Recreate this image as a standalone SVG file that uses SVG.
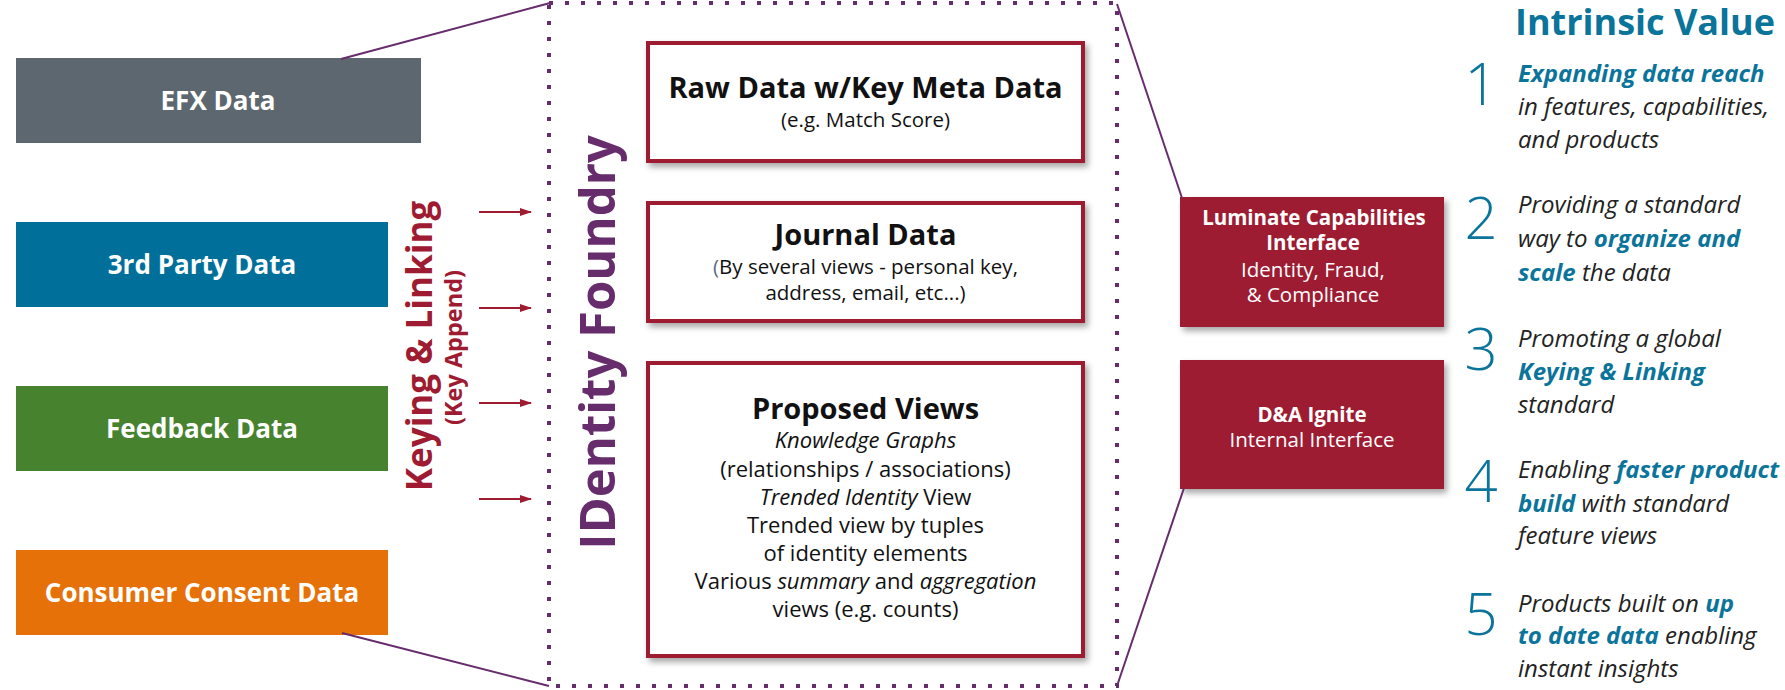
<svg xmlns="http://www.w3.org/2000/svg" width="1785" height="690" viewBox="0 0 1785 690">
<defs>
<style>
text{font-family:"Open Sans","Noto Sans","Liberation Sans",sans-serif;}
.src text{fill:#fff;font-weight:700;font-size:26px;text-anchor:middle;}
.cbox rect{fill:#fff;stroke:#9e1b32;stroke-width:4;}
.cbox text{fill:#111;text-anchor:middle;}
.ttl{font-weight:700;font-size:29px;}
.sub{font-size:20.5px;}
.pv{font-size:22px;}
.ifc rect{fill:#9e1b32;}
.ifc text{fill:#fff;text-anchor:middle;font-size:20.5px;}
.b{font-weight:700;}
.val text{font-size:24px;font-style:italic;fill:#222;}
.val text.num{font-size:58px;font-style:normal;font-weight:300;fill:#0b749a;text-anchor:middle;}
.val text.head{font-size:36px;font-weight:700;font-style:normal;fill:#0b749a;}
.val .hl{font-weight:700;fill:#0b749a;}
.conn line{stroke:#662c6c;stroke-width:2;}
.arr line{stroke:#9e1b32;stroke-width:2;}
</style>
<filter id="sh" x="-10%" y="-10%" width="125%" height="130%">
<feDropShadow dx="3" dy="4" stdDeviation="3" flood-color="#000" flood-opacity="0.35"/>
</filter>
<marker id="ah" markerWidth="12" markerHeight="10" refX="11" refY="4" orient="auto" markerUnits="userSpaceOnUse">
<path d="M0,0 L12,4 L0,8 z" fill="#9e1b32"/>
</marker>
</defs>
<rect width="1785" height="690" fill="#fff"/>

<g id="efx" class="src"><rect x="16" y="58" width="405" height="85" fill="#5d6770"/><text x="218" y="110">EFX Data</text></g>
<g id="third" class="src"><rect x="16" y="222" width="372" height="85" fill="#00709a"/><text x="202" y="274">3rd Party Data</text></g>
<g id="feedback" class="src"><rect x="16" y="386" width="372" height="85" fill="#47832e"/><text x="202" y="438">Feedback Data</text></g>
<g id="consumer" class="src"><rect x="16" y="550" width="372" height="85" fill="#e67108"/><text x="202" y="602">Consumer Consent Data</text></g>

<g id="keying">
<text transform="translate(432,346) rotate(-90)" text-anchor="middle" font-weight="700" font-size="35" fill="#9e1b32">Keying &amp; Linking</text>
<text transform="translate(462,347.5) rotate(-90)" text-anchor="middle" font-weight="700" font-size="23.5" fill="#9e1b32">(Key Append)</text>
</g>

<g id="foundry">
<rect x="549" y="3" width="568" height="683" fill="none" stroke="#662c6c" stroke-width="4" stroke-dasharray="4 12"/>
<text transform="translate(615,342.5) rotate(-90)" text-anchor="middle" font-weight="700" font-size="49" fill="#662c6c">IDentity Foundry</text>
</g>

<g id="raw" class="cbox"><rect x="648" y="43" width="435" height="118" filter="url(#sh)"/>
<text x="865.5" y="98" class="ttl">Raw Data w/Key Meta Data</text>
<text x="865.5" y="127" class="sub">(e.g. Match Score)</text></g>

<g id="journal" class="cbox"><rect x="648" y="203" width="435" height="118" filter="url(#sh)"/>
<text x="865.5" y="245" class="ttl">Journal Data</text>
<text x="865.5" y="274" class="sub"><tspan fill="#5b6b80">(</tspan>By several views - personal key,</text>
<text x="865.5" y="300" class="sub">address, email, etc...)</text></g>

<g id="proposed" class="cbox"><rect x="648" y="363" width="435" height="293" filter="url(#sh)"/>
<text x="865.5" y="419" class="ttl">Proposed Views</text>
<text x="865.5" y="448" class="pv" font-style="italic">Knowledge Graphs</text>
<text x="865.5" y="477" class="pv">(relationships / associations)</text>
<text x="865.5" y="505" class="pv"><tspan font-style="italic">Trended Identity</tspan> View</text>
<text x="865.5" y="533" class="pv">Trended view by tuples</text>
<text x="865.5" y="561" class="pv">of identity elements</text>
<text x="865.5" y="589" class="pv">Various <tspan font-style="italic">summary</tspan> and <tspan font-style="italic">aggregation</tspan></text>
<text x="865.5" y="617" class="pv">views (e.g. counts)</text></g>

<g id="luminate" class="ifc"><rect x="1180" y="197" width="264" height="130" filter="url(#sh)"/>
<text x="1314" y="225" class="b">Luminate Capabilities</text>
<text x="1313" y="250" class="b">Interface</text>
<text x="1313" y="277">Identity, Fraud,</text>
<text x="1313" y="302">&amp; Compliance</text></g>

<g id="ignite" class="ifc"><rect x="1180" y="360" width="264" height="129" filter="url(#sh)"/>
<text x="1312" y="422" class="b">D&amp;A Ignite</text>
<text x="1312" y="447">Internal Interface</text></g>

<g id="connectors">
<g class="conn">
<line x1="341" y1="59" x2="550" y2="3"/>
<line x1="342" y1="633" x2="549" y2="686"/>
<line x1="1117" y1="4" x2="1182" y2="198"/>
<line x1="1184" y1="488" x2="1117" y2="686"/>
</g>
<g class="arr">
<line x1="479" y1="212" x2="531" y2="212" marker-end="url(#ah)"/>
<line x1="479" y1="308" x2="531" y2="308" marker-end="url(#ah)"/>
<line x1="479" y1="403" x2="531" y2="403" marker-end="url(#ah)"/>
<line x1="479" y1="499" x2="531" y2="499" marker-end="url(#ah)"/>
</g>
</g>

<g id="values" class="val">
<text class="head" x="1515" y="35">Intrinsic Value</text>
<text class="num" x="1481" y="105">1</text>
<text x="1518" y="82" class="hl">Expanding data reach</text>
<text x="1518" y="115">in features, capabilities,</text>
<text x="1518" y="148">and products</text>
<text class="num" x="1481" y="239">2</text>
<text x="1518" y="213">Providing a standard</text>
<text x="1518" y="247">way to <tspan class="hl">organize and</tspan></text>
<text x="1518" y="281"><tspan class="hl">scale</tspan> the data</text>
<text class="num" x="1481" y="370">3</text>
<text x="1518" y="347">Promoting a global</text>
<text x="1518" y="380" class="hl">Keying &amp; Linking</text>
<text x="1518" y="413">standard</text>
<text class="num" x="1481" y="502">4</text>
<text x="1518" y="478">Enabling <tspan class="hl">faster product</tspan></text>
<text x="1518" y="512"><tspan class="hl">build</tspan> with standard</text>
<text x="1518" y="544">feature views</text>
<text class="num" x="1481" y="635">5</text>
<text x="1518" y="612">Products built on <tspan class="hl">up</tspan></text>
<text x="1518" y="644"><tspan class="hl">to date data</tspan> enabling</text>
<text x="1518" y="677">instant insights</text>
</g>
</svg>
